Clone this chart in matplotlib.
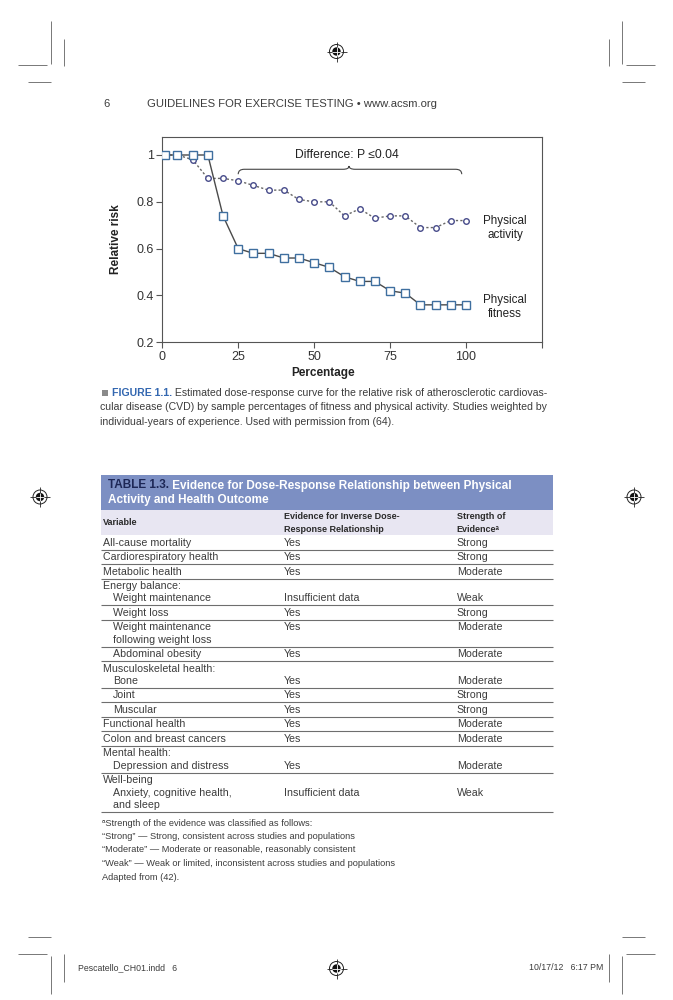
import matplotlib
matplotlib.use("Agg")
import matplotlib.pyplot as plt
from matplotlib.patches import Rectangle, Circle, PathPatch
from matplotlib.path import Path

plt.rcParams["font.family"] = ["Liberation Sans", "DejaVu Sans"]

# Figure 1.1 values
pct = [1, 5, 10, 15, 20, 25, 30, 35, 40, 45, 50, 55, 60, 65, 70, 75, 80, 85, 90, 95, 100]
fitness_rr = [1.0, 1.0, 1.0, 1.0, 0.74, 0.60, 0.58, 0.58, 0.56, 0.56, 0.54,
              0.52, 0.48, 0.46, 0.46, 0.42, 0.41, 0.36, 0.36, 0.36, 0.36]
activity_rr = [1.0, 1.0, 0.98, 0.90, 0.90, 0.89, 0.87, 0.85, 0.85, 0.81, 0.80,
               0.80, 0.74, 0.77, 0.73, 0.74, 0.74, 0.69, 0.69, 0.72, 0.72]
x_ticks = [0, 25, 50, 75, 100, 125]
x_tick_labels = ["0", "25", "50", "75", "100", ""]
y_ticks = [0.2, 0.4, 0.6, 0.8, 1.0]
y_tick_labels = ["0.2", "0.4", "0.6", "0.8", "1"]

# Table 1.3
var_heads = ["", "", "", "Energy balance:", "", "", "", "Musculoskeletal health:",
             "", "", "", "", "Mental health:", "Well-being"]
var_items = ["All-cause mortality", "Cardiorespiratory health", "Metabolic health",
             "Weight maintenance", "Weight loss", "Weight maintenance\nfollowing weight loss",
             "Abdominal obesity", "Bone", "Joint", "Muscular", "Functional health",
             "Colon and breast cancers", "Depression and distress",
             "Anxiety, cognitive health,\nand sleep"]
var_indent = [0, 0, 0, 1, 1, 1, 1, 1, 1, 1, 0, 0, 1, 1]
evidence = ["Yes", "Yes", "Yes", "Insufficient data", "Yes", "Yes", "Yes", "Yes",
            "Yes", "Yes", "Yes", "Yes", "Yes", "Insufficient data"]
strength = ["Strong", "Strong", "Moderate", "Weak", "Strong", "Moderate", "Moderate",
            "Moderate", "Strong", "Strong", "Moderate", "Moderate", "Moderate", "Weak"]
footnotes = [
    "\u1d43Strength of the evidence was classified as follows:",
    "\u201cStrong\u201d \u2014 Strong, consistent across studies and populations",
    "\u201cModerate\u201d \u2014 Moderate or reasonable, reasonably consistent",
    "\u201cWeak\u201d \u2014 Weak or limited, inconsistent across studies and populations",
    "Adapted from (42).",
]

W, H = 673, 1000
TXT = "#3c3c3c"

fig = plt.figure(figsize=(W / 100, H / 100), dpi=100)
fig.patch.set_facecolor("white")
renderer = fig.canvas.get_renderer()

# page layer in pixel units (y down)
page = fig.add_axes([0, 0, 1, 1], zorder=0)
page.set_xlim(0, W)
page.set_ylim(H, 0)
page.axis("off")


def seg(x0, y0, x1, y1, color="#555555", lw=0.8):
    page.plot([x0, x1], [y0, y1], color=color, lw=lw, solid_capstyle="butt")


def reg_mark(cx, cy):
    page.add_patch(Circle((cx, cy), 7, fill=False, ec="#222222", lw=0.7))
    page.add_patch(Circle((cx, cy), 4.2, fc="#111111", ec="none"))
    seg(cx - 10, cy, cx + 10, cy, "#222222", 0.6)
    seg(cx, cy - 10, cx, cy + 10, "#222222", 0.6)
    seg(cx - 4.2, cy, cx + 4.2, cy, "white", 0.6)
    seg(cx, cy - 4.2, cx, cy + 4.2, "white", 0.6)


def chain(x, y, parts, size):
    for s, color, weight in parts:
        t = page.text(x, y, s, fontsize=size, color=color, fontweight=weight,
                      va="center", ha="left")
        x += t.get_window_extent(renderer).width


# crop marks
for flip in (False, True):
    def X(v):
        return W - v if flip else v
    # top
    seg(X(18), 65, X(47), 65, "#777777", 0.7)
    seg(X(50.6), 21, X(50.6), 64, "#777777", 0.7)
    seg(X(64), 39, X(64), 66, "#777777", 0.7)
    seg(X(28), 81.5, X(50.6), 81.5, "#777777", 0.7)
    # bottom
    seg(X(28), 936.5, X(50.6), 936.5, "#777777", 0.7)
    seg(X(18), 953.5, X(47), 953.5, "#777777", 0.7)
    seg(X(50.6), 956, X(50.6), 994, "#777777", 0.7)
    seg(X(64), 953.5, X(64), 981.5, "#777777", 0.7)

reg_mark(336.5, 51.5)
reg_mark(336.5, 968.5)
reg_mark(40, 497)
reg_mark(634, 497)

# running head and slug
page.text(103, 104, "6", fontsize=8, color=TXT, va="center")
page.text(147, 104, "GUIDELINES FOR EXERCISE TESTING \u2022 www.acsm.org",
          fontsize=8.1, color=TXT, va="center")
page.text(78.5, 968, "Pescatello_CH01.indd   6", fontsize=6.3, color=TXT, va="center")
page.text(603, 968, "10/17/12   6:17 PM", fontsize=6.3, color=TXT, va="center", ha="right")

# ---- figure 1.1 ----
ax = fig.add_axes([162.3 / W, 1 - 342.3 / H, 379.6 / W, 205.8 / H], zorder=1)
ax.plot(pct, activity_rr, ls=(0, (1.6, 1.6)), color="#666666", lw=1.0,
        marker="o", ms=4, mfc="white", mec="#474b8a", mew=1.0, zorder=2)
ax.plot(pct, fitness_rr, ls="-", color="#4a4a4a", lw=1.0,
        marker="s", ms=5.2, mfc="white", mec="#3f6f9f", mew=1.0, zorder=3)
ax.set_xlim(0, 125)
ax.set_ylim(0.2, 1.079)
ax.set_xticks(x_ticks, x_tick_labels)
ax.set_yticks(y_ticks, y_tick_labels)
ax.tick_params(direction="out", length=4, width=0.8, color="#555555",
               labelsize=9, labelcolor="#333333", pad=2)
for sp in ax.spines.values():
    sp.set_color("#555555")
    sp.set_linewidth(0.8)
ax.set_xlabel("Percentage", fontsize=8.5, fontweight="bold", color="#222222")
ax.xaxis.set_label_coords(52.8 / 125, -0.12)
ax.set_ylabel("Relative risk", fontsize=8.5, fontweight="bold", color="#222222")
ax.yaxis.set_label_coords(-0.105, 0.5)

# brace over the gap
verts = [(25, 0.918), (25, 0.939), (27, 0.939), (59.5, 0.939), (61.5, 0.939),
         (61.5, 0.953), (61.5, 0.939), (63.5, 0.939), (96.6, 0.939), (98.6, 0.939),
         (98.6, 0.918)]
codes = [Path.MOVETO, Path.CURVE3, Path.CURVE3, Path.LINETO, Path.CURVE3, Path.CURVE3,
         Path.CURVE3, Path.CURVE3, Path.LINETO, Path.CURVE3, Path.CURVE3]
ax.add_patch(PathPatch(Path(verts, codes), fill=False, ec="#444444", lw=0.8))
ax.text(60.7, 1.0, "Difference: P \u22640.04", fontsize=8.7, color="#222222",
        ha="center", va="center")
ax.text(112.9, 0.687, "Physical\nactivity", fontsize=8.4, color="#222222",
        ha="center", va="center", linespacing=1.25)
ax.text(112.9, 0.352, "Physical\nfitness", fontsize=8.4, color="#222222",
        ha="center", va="center", linespacing=1.25)

# caption
CAP = 7.6
page.add_patch(Rectangle((102, 390.3), 6, 6, fc="#8a8a8a", ec="none"))
chain(111.7, 393.3, [("FIGURE 1.1.", "#3367b0", "bold"),
                     (" Estimated dose-response curve for the relative risk of "
                      "atherosclerotic cardiovas-", TXT, "normal")], CAP)
page.text(100, 407.5, "cular disease (CVD) by sample percentages of fitness and physical "
          "activity. Studies weighted by", fontsize=CAP, color=TXT, va="center")
page.text(100, 421.7, "individual-years of experience. Used with permission from (64).",
          fontsize=CAP, color=TXT, va="center")

# ---- table 1.3 ----
TL, TR = 101, 553
C1, C2, C3 = 103.3, 284, 456.7
BODY = 7.7
page.add_patch(Rectangle((TL, 475), TR - TL, 35, fc="#7c8fc3", ec="none"))
page.add_patch(Rectangle((TL, 510), TR - TL, 25, fc="#e8e6f2", ec="none"))
chain(108, 485.5, [("TABLE 1.3.", "#1d2756", "bold"),
                   (" Evidence for Dose-Response Relationship between Physical",
                    "white", "bold")], 8.5)
page.text(108, 500, "Activity and Health Outcome", fontsize=8.5, color="white",
          fontweight="bold", va="center")
hdr = dict(fontsize=6.5, color="#2a2a2a", fontweight="bold", va="center")
page.text(C1, 522.7, "Variable", **hdr)
page.text(C2, 516.7, "Evidence for Inverse Dose-", **hdr)
page.text(C2, 529.3, "Response Relationship", **hdr)
page.text(C3, 516.7, "Strength of", **hdr)
page.text(C3, 529.3, "Evidence\u1d43", **hdr)

LH = 12.3
y = 535
for head, item, ind, ev, st in zip(var_heads, var_items, var_indent, evidence, strength):
    lines = ([head] if head else []) + item.split("\n")
    for k, s in enumerate(lines):
        x = C1 if (head and k == 0) else C1 + 10 * ind
        page.text(x, y + 7.6 + LH * k, s, fontsize=BODY, color=TXT, va="center")
    vy = y + 7.6 + LH * (1 if head else 0)
    page.text(C2, vy, ev, fontsize=BODY, color=TXT, va="center")
    page.text(C3, vy, st, fontsize=BODY, color=TXT, va="center")
    y += 2.2 + LH * len(lines)
    seg(TL, y, TR, y, "#6e6e6e", 0.8)

for i, s in enumerate(footnotes):
    page.text(101.7, 823 + 13.5 * i, s, fontsize=6.7, color=TXT, va="center")

fig.savefig("out.png", dpi=100, facecolor="white")
